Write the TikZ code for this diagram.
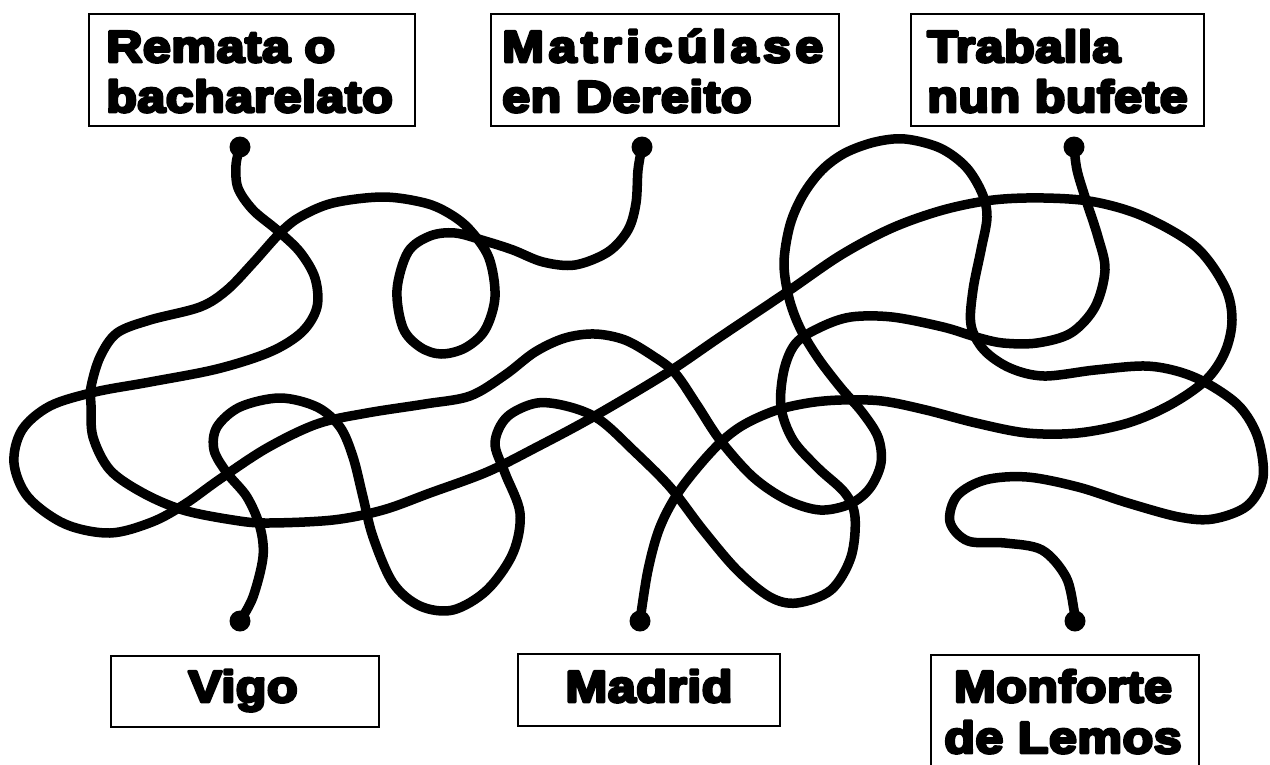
\documentclass[tikz,border=0pt]{standalone}
\usepackage{fontspec}
\newfontfamily\heavy{Liberation Sans}[BoldFeatures={FakeBold=6.5}, FakeStretch=1.13, LetterSpace=1]
\newcommand\roundjoin{\special{pdf:literal direct 1 j 1 J}}
\begin{document}
\begin{tikzpicture}[x=1pt,y=-1pt,
  wire/.style={line width=9.5pt, line cap=round, line join=round},
  dot/.style={circle, fill=black, inner sep=0pt, minimum size=21pt},
  box/.style={draw=black, line width=2.2pt, inner sep=0pt},
  lbl/.style={inner sep=0pt, font=\roundjoin\heavy\bfseries\fontsize{44.5}{50}\selectfont}]
\useasboundingbox (0,0) rectangle (1270,764);
\fill[white] (0,0) rectangle (1270,764);
% boxes
\node[box, minimum width=326pt, minimum height=112pt, anchor=north west] (b1) at (88,13) {};
\node[box, minimum width=348pt, minimum height=112pt, anchor=north west] (b2) at (490,13) {};
\node[box, minimum width=293pt, minimum height=112pt, anchor=north west] (b3) at (910,13) {};
\node[box, minimum width=268pt, minimum height=71pt, anchor=north west] (b4) at (110,655) {};
\node[box, minimum width=262pt, minimum height=72pt, anchor=north west] (b5) at (517,653) {};
\node[box, minimum width=268pt, minimum height=140pt, anchor=north west] (b6) at (930,654) {};
% labels
\node[lbl, anchor=base west] (t1a) at (106,62) {Remata o};
\node[lbl, anchor=base west] (t1b) at (106,112) {bacharelato};
\node[lbl, anchor=base west] (t2a) at (502,62) {\addfontfeature{LetterSpace=10}Matricúlase};
\node[lbl, anchor=base west] (t2b) at (502,112) {en Dereito};
\node[lbl, anchor=base west] (t3a) at (927,62) {Traballa};
\node[lbl, anchor=base west] (t3b) at (927,112) {nun bufete};
\node[lbl, anchor=base] (t4) at (243,702) {Vigo};
\node[lbl, anchor=base] (t5) at (649,702) {Madrid};
\node[lbl, anchor=base] (t6a) at (1063,702) {Monforte};
\node[lbl, anchor=base] (t6b) at (1063,753) {de Lemos};
% dots
\node[dot] (d1) at (240,147) {};
\node[dot] (d2) at (642,147) {};
\node[dot] (d3) at (1074,147) {};
\node[dot] (d4) at (240,621) {};
\node[dot] (d5) at (640,621) {};
\node[dot] (d6) at (1075,621) {};
% curve A: d1 -> d6
\draw[wire] plot[smooth, tension=0.55] coordinates {(d1.center)
(236,165) (238,188) (253,210) (277,230) (300,252) (315,278) (317,307)
(302,332) (270,352) (217,369) (150,382) (95,392) (50,406) (22,430)
(14,463) (28,497) (65,524) (110,533) (152,522) (185,504) (220,479)
(267,448) (317,424) (367,413) (425,404) (470,396) (505,375) (535,352)
(565,338) (595,334) (625,340) (653,356) (675,373) (697,405) (720,440)
(753,477) (787,500) (820,510) (850,504) (870,488) (881,463) (878,437)
(862,412) (841,388) (818,358) (800,328) (789,298) (784,263) (790,225)
(803,195) (822,170) (845,153) (875,142) (905,139) (940,148) (966,167)
(982,193) (987,217) (981,250) (973,290) (971,325) (984,350) (1010,368)
(1044,376) (1095,370) (1145,366) (1180,372) (1210,385) (1240,407)
(1258,438) (1263,478) (1247,506) (1213,519) (1179,517) (1128,503)
(1078,487) (1027,477) (985,480) (957,496) (950,522) (968,541)
(1005,543) (1042,550) (1066,577) (1074,610) (d6.center)};
% curve B: d2 -> d5
\draw[wire] plot[smooth, tension=0.55] coordinates {(d2.center)
(638,170) (636,203) (628,230) (608,252) (575,265) (543,262) (513,250)
(485,241) (455,233) (430,236) (408,252) (397,290) (403,328) (420,347)
(441,354) (465,348) (485,330) (495,297) (489,258) (470,230) (450,214)
(425,203) (383,197) (333,203) (300,217) (280,233) (253,263) (227,290)
(200,307) (150,320) (117,333) (100,357) (91,387) (91,405) (93,437)
(110,470) (143,493) (183,510) (233,520) (267,523) (333,520) (383,510)
(430,493) (487,472) (537,447) (593,417) (667,373) (720,337) (787,292)
(841,255) (892,228) (943,210) (993,200) (1044,198) (1095,202)
(1145,217) (1196,247) (1225,287) (1232,320) (1225,352) (1206,380)
(1170,405) (1128,423) (1078,433) (1027,433) (976,423) (926,410)
(882,401) (841,400) (808,403) (774,411) (740,427) (713,450) (680,490)
(660,527) (648,570) (d5.center)};
% curve C: d4 -> d3
\draw[wire] plot[smooth, tension=0.55] coordinates {(d4.center)
(253,597) (263,557) (260,527) (247,497) (227,473) (214,450) (217,427)
(240,407) (280,398) (317,407) (340,427) (353,457) (363,497) (373,537)
(393,583) (420,606) (453,610) (487,590) (513,553) (520,513) (505,473)
(495,443) (507,417) (537,403) (570,407) (600,420) (633,450) (670,487)
(703,530) (737,570) (770,597) (797,603) (831,590) (851,557) (855,517)
(845,493) (818,468) (793,440) (781,407) (784,370) (796,343) (821,327)
(851,317) (892,317) (943,327) (976,337) (1003,343) (1037,343)
(1071,333) (1095,307) (1105,270) (1098,237) (1085,197) (1077,170)
(d3.center)};
\end{tikzpicture}
\end{document}
